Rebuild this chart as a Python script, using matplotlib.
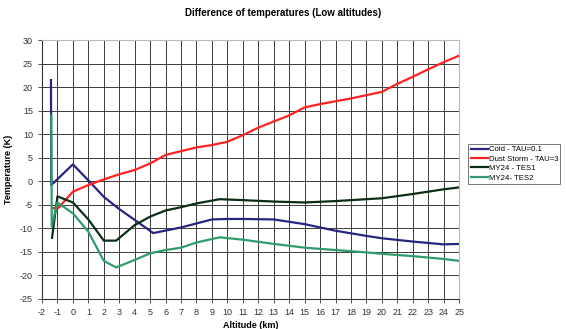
import matplotlib.pyplot as plt

plt.rcParams['font.family'] = ['Liberation Sans', 'DejaVu Sans']
plt.rcParams['axes.unicode_minus'] = False

# altitude (km) / temperature differences (K)
cold_x = [-1.42, -1.4, 0, 1, 2, 3, 4, 5.2, 7, 9, 10, 11, 13, 15, 17, 19, 20, 22, 24, 25]
cold_y = [21.5, -0.8, 3.6, 0.2, -3.3, -5.9, -8.2, -11.0, -9.8, -8.1, -8.0, -8.0, -8.1, -9.1, -10.5, -11.6, -12.1, -12.8, -13.4, -13.3]

dust_x = [-1.3, -0.95, 0, 1, 2, 3, 4, 5, 6, 7, 8, 9, 10, 11, 12, 13, 14, 15, 16, 17, 18, 19, 20, 21, 22, 23, 24, 25]
dust_y = [-5.7, -5.7, -2.2, -0.8, 0.4, 1.5, 2.4, 3.8, 5.6, 6.4, 7.2, 7.7, 8.4, 9.8, 11.4, 12.7, 14.0, 15.7, 16.4, 17.0, 17.6, 18.3, 19.0, 20.7, 22.2, 23.8, 25.3, 26.7]

tes1_x = [-1.35, -1.0, 0, 1, 2, 2.8, 4, 5, 6, 7, 8, 9.5, 11, 13, 15, 17, 19, 20, 22, 24, 25]
tes1_y = [-12.0, -3.2, -4.5, -8.1, -12.6, -12.6, -9.3, -7.5, -6.2, -5.5, -4.7, -3.8, -4.0, -4.3, -4.5, -4.2, -3.8, -3.6, -2.7, -1.7, -1.3]

tes2_x = [-1.4, -1.37, -1.0, 0, 1, 2, 2.8, 4, 5, 6, 7, 8, 9.5, 11, 13, 15, 17, 19, 20, 22, 24, 25]
tes2_y = [14.0, -9.6, -4.5, -6.8, -10.7, -16.9, -18.3, -16.7, -15.3, -14.6, -14.1, -13.0, -11.9, -12.4, -13.3, -14.1, -14.6, -15.1, -15.4, -15.9, -16.5, -16.9]

x_ticks = list(range(-2, 26))
y_ticks = list(range(-25, 31, 5))

fig = plt.figure(figsize=(5.66, 3.29), dpi=100)
ax = fig.add_axes([0.0742, 0.0912, 0.737, 0.787])

ax.plot(cold_x, cold_y, color='#262682', lw=1.6, label='Cold - TAU=0.1')
ax.plot(dust_x, dust_y, color='#ff2222', lw=1.6, label='Dust Storm - TAU=3')
ax.plot(tes1_x, tes1_y, color='#0c2e14', lw=1.6, label='MY24 - TES1')
ax.plot(tes2_x, tes2_y, color='#2e9c6c', lw=1.6, label='MY24- TES2')

ax.set_xlim(-2, 25)
ax.set_ylim(-25, 30)
ax.set_xticks(x_ticks)
ax.set_yticks(y_ticks)
ax.tick_params(labelsize=6.5, colors='#333333', length=3, width=0.6)
ax.grid(True, color='#3a3a3a', lw=0.7)
ax.set_axisbelow(True)
for side in ['top', 'right']:
    ax.spines[side].set_color('#bbbbbb')
for side in ['left', 'bottom']:
    ax.spines[side].set_color('#333333')
    ax.spines[side].set_linewidth(0.8)

ax.set_xlabel('Altitude (km)', fontsize=6.5, fontweight='bold', labelpad=3)
ax.set_ylabel('Temperature (K)', fontsize=6.5, fontweight='bold', labelpad=5)
fig.suptitle('Difference of temperatures (Low altitudes)', fontsize=7, fontweight='bold', y=0.975)

leg = ax.legend(loc='upper left', bbox_to_anchor=(1.022, 0.6), fontsize=5.6, frameon=True,
                fancybox=False, edgecolor='#555555', handlelength=2.2, handletextpad=0.1,
                borderpad=0.3, labelspacing=0.25, borderaxespad=0)
leg.get_frame().set_linewidth(0.7)

fig.savefig('out.png', dpi=100)
